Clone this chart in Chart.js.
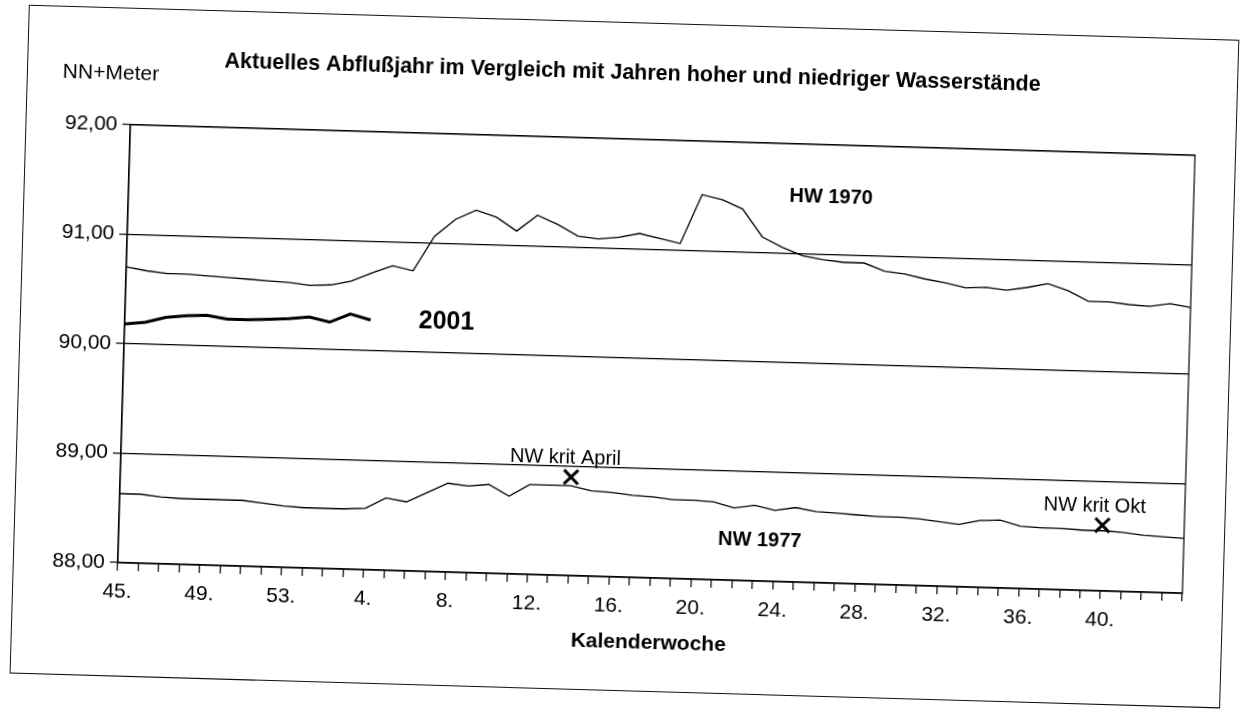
<!DOCTYPE html>
<html>
<head>
<meta charset="utf-8">
<script src="https://cdn.jsdelivr.net/npm/chart.js@4/dist/chart.umd.min.js"></script>
<style>
  html, body { margin: 0; padding: 0; background: #fff; }
  #frame {
    position: absolute; left: 19px; top: 22px;
    width: 1209px; height: 667px;
    border: 1.5px solid #111;
    transform: rotate(1.65deg);
    transform-origin: 602px 333px;
  }
</style>
</head>
<body>
<div id="frame"><canvas id="myChart"></canvas></div>
<script>
// Kalenderwochen 45 (Vorjahr) bis 44
const weeks = ['45.','46.','47.','48.','49.','50.','51.','52.','53.',
  '1.','2.','3.','4.','5.','6.','7.','8.','9.','10.','11.','12.','13.','14.','15.','16.',
  '17.','18.','19.','20.','21.','22.','23.','24.','25.','26.','27.','28.','29.','30.',
  '31.','32.','33.','34.','35.','36.','37.','38.','39.','40.','41.','42.','43.','44.'];

// HW 1970
const hw1970 = [90.70, 90.67, 90.65, 90.65, 90.64, 90.63, 90.62, 90.61, 90.60, 90.58,
  90.59, 90.63, 90.71, 90.78, 90.74, 91.06, 91.22, 91.31, 91.25, 91.13,
  91.28, 91.20, 91.10, 91.08, 91.10, 91.14, 91.10, 91.06, 91.51, 91.47,
  91.39, 91.14, 91.05, 90.98, 90.95, 90.93, 90.93, 90.86, 90.84, 90.80,
  90.77, 90.73, 90.74, 90.72, 90.75, 90.79, 90.73, 90.64, 90.64, 90.62,
  90.61, 90.64, 90.61];

// aktuelles Jahr 2001 (bis KW 4)
const y2001 = [90.18, 90.20, 90.25, 90.27, 90.28, 90.25, 90.25, 90.26, 90.27, 90.29,
  90.25, 90.33, 90.28];

// NW 1977
const nw1977 = [88.63, 88.63, 88.61, 88.60, 88.60, 88.60, 88.60, 88.58, 88.56, 88.55,
  88.55, 88.55, 88.56, 88.66, 88.63, 88.72, 88.81, 88.79, 88.81, 88.71,
  88.82, 88.82, 88.82, 88.78, 88.77, 88.75, 88.74, 88.72, 88.72, 88.71,
  88.66, 88.69, 88.65, 88.68, 88.65, 88.64, 88.63, 88.62, 88.62, 88.61,
  88.59, 88.57, 88.61, 88.62, 88.57, 88.56, 88.56, 88.55, 88.55, 88.54,
  88.52, 88.51, 88.50];

// kritische Niedrigwasser (KW 14 und KW 40)
const nwKritWeeks = ['14.', '40.'];
const nwKritLevels = [88.90, 88.60];

const yTicks = [88, 89, 90, 91, 92];

const fam = '"Liberation Sans", Arial, sans-serif';

const kritData = weeks.map(w => {
  const k = nwKritWeeks.indexOf(w);
  return k < 0 ? null : nwKritLevels[k];
});

// Beschriftungen im Diagramm (Kategorie-Index, Pegel)
const notes = [
  { text: 'HW 1970', week: 34.3, level: 91.52, font: 'bold 20px ' + fam },
  { text: '2001', week: 15.7, level: 90.28, font: 'bold 25px ' + fam },
  { text: 'NW 1977', week: 31.3, level: 88.37, font: 'bold 20px ' + fam },
  { text: 'NW krit April', week: 21.7, level: 89.07, font: '20px ' + fam },
  { text: 'NW krit Okt', week: 47.6, level: 88.77, font: '20px ' + fam }
];

const extras = {
  id: 'extras',
  afterDraw(chart) {
    const { ctx, chartArea: a, scales: { x, y } } = chart;
    ctx.save();
    ctx.strokeStyle = '#000';
    ctx.lineWidth = 1.2;
    ctx.strokeRect(a.left, a.top, a.right - a.left, a.bottom - a.top);
    ctx.fillStyle = '#000';
    ctx.textAlign = 'center';
    ctx.textBaseline = 'middle';
    ctx.font = '21px ' + fam;
    ctx.fillText('NN+Meter', a.left - 21, a.top - 51);
    notes.forEach(n => {
      ctx.font = n.font;
      ctx.fillText(n.text, x.getPixelForValue(n.week), y.getPixelForValue(n.level));
    });
    ctx.restore();
  }
};

const canva = document.getElementById('myChart');
const myChart = new Chart(canva, {
  type: 'line',
  data: {
    labels: weeks,
    datasets: [
      { label: 'HW 1970', data: hw1970, borderColor: '#000', borderWidth: 1.3,
        pointRadius: 0, tension: 0, fill: false },
      { label: '2001', data: y2001, borderColor: '#000', borderWidth: 3,
        pointRadius: 0, tension: 0, fill: false },
      { label: 'NW 1977', data: nw1977, borderColor: '#000', borderWidth: 1.3,
        pointRadius: 0, tension: 0, fill: false },
      { label: 'NW krit', data: kritData, showLine: false, borderColor: '#000',
        pointStyle: 'crossRot', pointRadius: 10, pointBorderWidth: 3, pointBorderColor: '#000' }
    ]
  },
  options: {
    responsive: true,
    maintainAspectRatio: false,
    animation: false,
    layout: { padding: 0 },
    plugins: {
      legend: { display: false },
      tooltip: { enabled: false },
      title: {
        display: true,
        text: 'Aktuelles Abflußjahr im Vergleich mit Jahren hoher und niedriger Wasserstände',
        color: '#000',
        font: { family: fam, size: 21.5, weight: 'bold' },
        padding: { top: 37, bottom: 53 }
      }
    },
    scales: {
      x: {
        offset: false,
        grid: { drawOnChartArea: false, color: '#000', lineWidth: 1.2, tickLength: 8 },
        border: { color: '#000', width: 1.2 },
        ticks: {
          autoSkip: false, maxRotation: 0, padding: 9, color: '#000',
          font: { family: fam, size: 21 },
          callback: (v, i) => (i % 4 === 0 && i < weeks.length - 1) ? weeks[i] : ''
        },
        title: {
          display: true, text: 'Kalenderwoche', color: '#000',
          font: { family: fam, size: 21, weight: 'bold' },
          padding: { top: 8, bottom: 35 }
        },
        afterFit(s) { s.height = 113; }
      },
      y: {
        min: yTicks[0],
        max: yTicks[yTicks.length - 1],
        afterBuildTicks(s) { s.ticks = yTicks.map(v => ({ value: v })); },
        grid: { color: '#000', lineWidth: 1.2, tickLength: 8 },
        border: { color: '#000', width: 1.2 },
        ticks: {
          padding: 5, color: '#000',
          font: { family: fam, size: 21 },
          callback: v => v.toFixed(2).replace('.', ',')
        },
        afterFit(s) { s.width = 104; }
      },
      // leerer Rand rechts neben der Zeichenflaeche
      rand: {
        position: 'right',
        display: true,
        grid: { display: false },
        border: { display: false },
        ticks: { display: false },
        afterFit(s) { s.width = 40; }
      }
    }
  },
  plugins: [extras]
});
</script>
</body>
</html>
